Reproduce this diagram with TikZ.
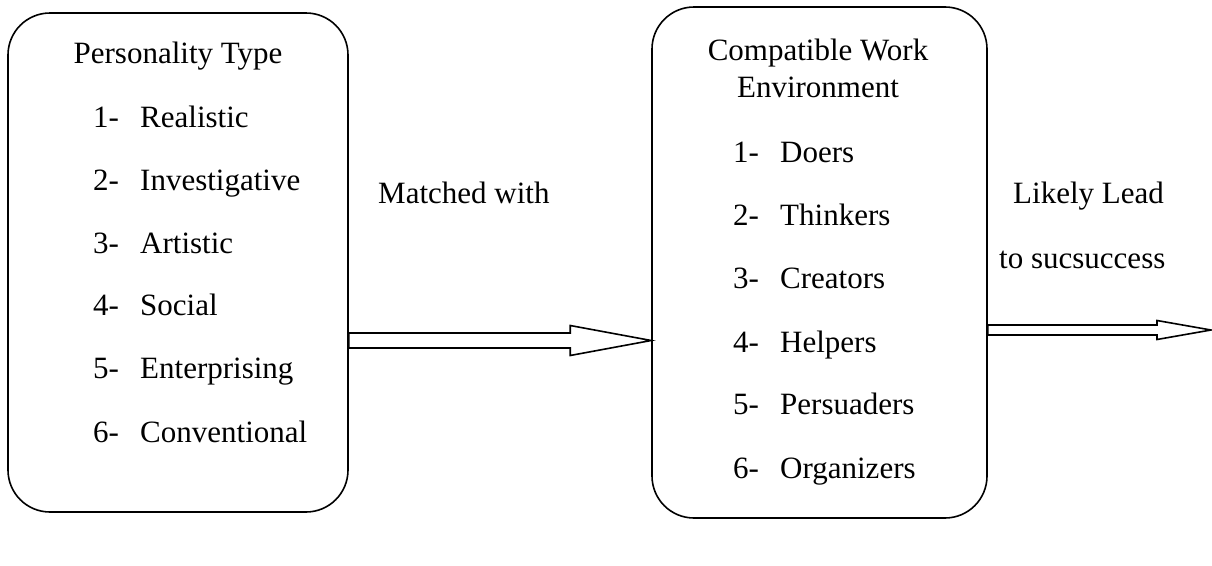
\documentclass[tikz,border=0pt]{standalone}
\usepackage{fontspec}
\setmainfont{Liberation Serif}
\usetikzlibrary{calc}
\tikzset{
  box/.style={draw, line width=1.6pt, rounded corners=42pt, inner sep=0pt},
  txt/.style={inner sep=0pt, font=\fontsize{31}{37}\selectfont},
  arr/.style={draw, line width=1.6pt, line join=miter, fill=white},
}
\newcommand\fatarrow[5]{%
  \draw[arr] let \p1=(#1), \p2=(#2) in
    (\x1,{\y1+#3pt}) -- ({\x2-#5pt},{\y1+#3pt}) -- ({\x2-#5pt},{\y1+#4pt})
    -- (\x2,\y1) -- ({\x2-#5pt},{\y1-#4pt}) -- ({\x2-#5pt},{\y1-#3pt})
    -- (\x1,{\y1-#3pt}) -- cycle;}
\begin{document}
\begin{tikzpicture}[x=1pt,y=-1pt]
\useasboundingbox (0,0) rectangle (1212,565);
% boxes
\node[box, minimum width=340pt, minimum height=499pt] (L) at (178,262.5) {};
\node[box, minimum width=335pt, minimum height=511pt] (R) at (819.5,262.5) {};
% left box text
\node[txt, anchor=base] (lt) at (178,63) {Personality Type};
\foreach \n/\w/\y in {1/Realistic/127, 2/Investigative/190, 3/Artistic/253, 4/Social/315, 5/Enterprising/378, 6/Conventional/442}{
  \node[txt, anchor=base west] (ln\n) at (93,\y) {\n-};
  \node[txt, anchor=base west] (lw\n) at (140,\y) {\w};
}
% right box text
\node[txt, anchor=base] (rt1) at (818,60) {Compatible Work};
\node[txt, anchor=base] (rt2) at (818,97) {Environment};
\foreach \n/\w/\y in {1/Doers/162, 2/Thinkers/225, 3/Creators/288, 4/Helpers/352, 5/Persuaders/414, 6/Organizers/478}{
  \node[txt, anchor=base west] (rn\n) at (733,\y) {\n-};
  \node[txt, anchor=base west] (rw\n) at (780,\y) {\w};
}
% labels
\node[txt, anchor=base west] (m) at (378,203) {Matched with};
\node[txt, anchor=base west] (ll) at (1013,203) {Likely Lead};
\node[txt, anchor=base west] (ts) at (999,268) {to sucsuccess};
% arrows
\coordinate (a1s) at (L.east |- 0,340.5);
\coordinate (a1e) at (R.west |- 0,340.5);
\fatarrow{a1s}{a1e}{7.5}{15}{81}
\coordinate (a2s) at (R.east |- 0,330);
\coordinate (a2e) at (1211,330);
\fatarrow{a2s}{a2e}{5}{9.5}{54}
\end{tikzpicture}
\end{document}
